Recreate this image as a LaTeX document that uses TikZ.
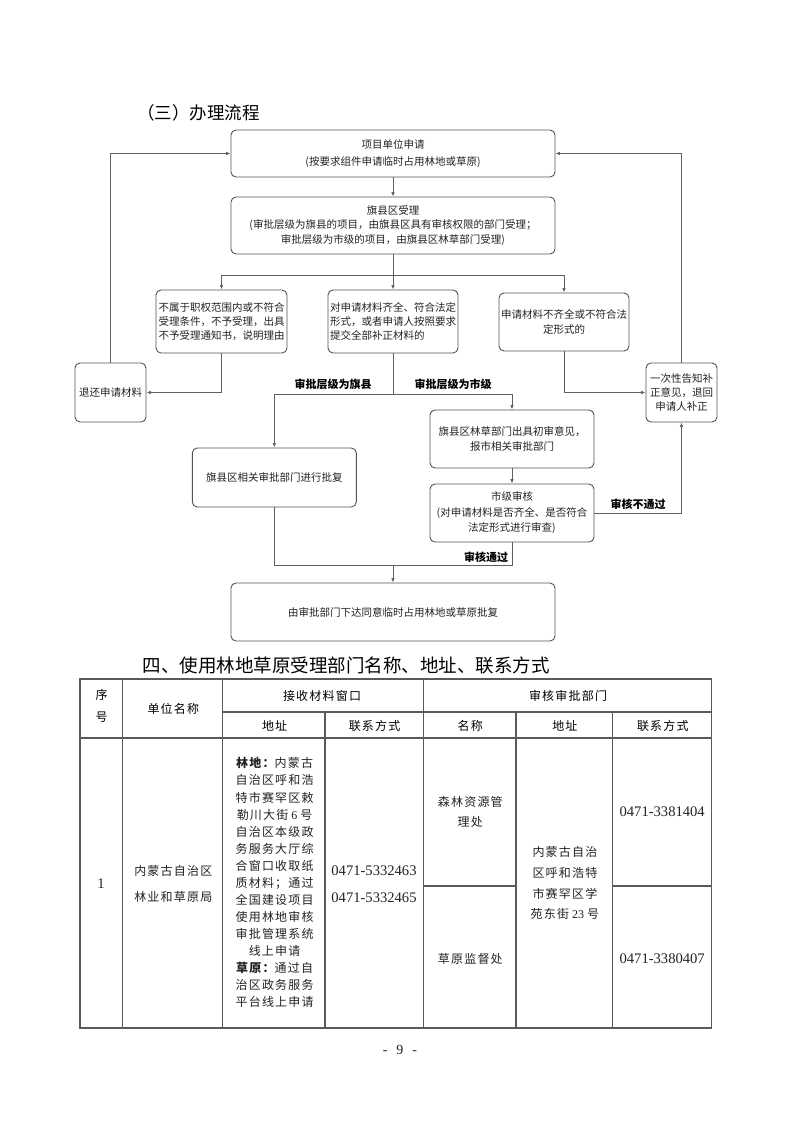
\documentclass[tikz,border=0pt]{standalone}
\usepackage{fontspec}
\setmainfont{Liberation Serif}
\newfontfamily\cjk{Noto Sans CJK SC}
\newfontfamily\cjkt{Noto Sans CJK SC}[LetterSpace=10]
\usetikzlibrary{arrows.meta}
\definecolor{boxc}{RGB}{80,80,104}
\definecolor{linec}{RGB}{96,96,96}
\definecolor{txt}{RGB}{35,35,35}
\definecolor{tabl}{RGB}{90,90,90}
\tikzset{
 fbox/.style={draw=boxc, line width=0.9pt, rounded corners=5pt, fill=white, align=center, inner sep=0pt, text=txt, font=\cjk\fontsize{10.5}{14.2}\selectfont},
 conn/.style={draw=linec, line width=0.9pt},
 arr/.style={conn, -{Latex[length=4.5pt,width=3.6pt]}},
 lbl/.style={font=\cjk\bfseries\fontsize{11}{13}\selectfont, text=black, inner sep=0pt},
 th/.style={font=\cjkt\fontsize{12}{22}\selectfont, text=black, align=center, inner sep=0pt},
 td/.style={font=\cjkt\fontsize{12}{17.03}\selectfont, text=txt, align=center, inner sep=0pt},
 tnum/.style={font=\fontsize{14.6}{26.7}\selectfont, text=txt, align=center, inner sep=0pt},
 tl/.style={draw=tabl, line width=1.1pt},
}
\begin{document}
\begin{tikzpicture}[x=1pt,y=-1pt]
\useasboundingbox[fill=white] (0,0) rectangle (793,1122);

% headings
\node[font=\cjk\fontsize{17.5}{20}\selectfont, anchor=west, inner sep=0pt] (h1) at (137,113) {（三）办理流程};

% flowchart boxes
\node[fbox, minimum width=324, minimum height=47, font=\cjk\fontsize{10.5}{16.5}\selectfont] (b1) at (393,153.5) {项目单位申请\\(按要求组件申请临时占用林地或草原)};
\node[fbox, minimum width=324, minimum height=57] (b2) at (393,225.5) {旗县区受理\\(审批层级为旗县的项目，由旗县区具有审核权限的部门受理；\\审批层级为市级的项目，由旗县区林草部门受理)};
\node[fbox, minimum width=131, minimum height=63, align=left, font=\cjk\fontsize{10.5}{13.8}\selectfont] (b3) at (221.5,321.5) {不属于职权范围内或不符合\\受理条件，不予受理，出具\\不予受理通知书，说明理由};
\node[fbox, minimum width=130, minimum height=63, align=left, font=\cjk\fontsize{10.5}{13.8}\selectfont] (b4) at (393,321.5) {对申请材料齐全、符合法定\\形式，或者申请人按照要求\\提交全部补正材料的};
\node[fbox, minimum width=130, minimum height=58, font=\cjk\fontsize{10.5}{15}\selectfont] (b5) at (564,322) {申请材料不齐全或不符合法\\定形式的};
\node[fbox, minimum width=71, minimum height=59] (b6) at (110.5,392.5) {退还申请材料};
\node[fbox, minimum width=71, minimum height=59] (b7) at (681.5,392.5) {一次性告知补\\正意见，退回\\申请人补正};
\node[fbox, minimum width=164, minimum height=59] (b8) at (274.3,477.5) {旗县区相关审批部门进行批复};
\node[fbox, minimum width=164, minimum height=58] (b9) at (512,439) {旗县区林草部门出具初审意见，\\报市相关审批部门};
\node[fbox, minimum width=164, minimum height=58, font=\cjk\fontsize{10.5}{15.5}\selectfont] (b10) at (512,513) {市级审核\\(对申请材料是否齐全、是否符合\\法定形式进行审查)};
\node[fbox, minimum width=324, minimum height=58] (b11) at (393,612) {由审批部门下达同意临时占用林地或草原批复};

% junctions
\coordinate (j1) at (393,275);
\coordinate (j2) at (393,394);
\coordinate (j3) at (393,565);

% connectors
\draw[arr] (b1) -- (b2);
\draw[conn] (b2.south) -- (j1);
\draw[arr] (j1) -| (b3.north);
\draw[arr] (j1) -- (b4.north);
\draw[arr] (j1) -| (b5.north);
\draw[arr] (b3.south) |- (b6.east);
\draw[arr] (b5.south) |- (b7.west);
\draw[arr] (b6.north) |- (b1.west);
\draw[arr] (b7.north) |- (b1.east);
\draw[conn] (b4.south) -- (j2);
\draw[arr] (j2) -| (b8.north);
\draw[arr] (j2) -| (b9.north);
\draw[arr] (b9) -- (b10);
\draw[arr] (b10.east) -| (b7.south);
\draw[conn] (b8.south) |- (j3);
\draw[conn] (b10.south) |- (j3);
\draw[arr] (j3) -- (b11.north);

% connector labels
\node[lbl] (l1) at (333,384) {审批层级为旗县};
\node[lbl] (l2) at (453,384) {审批层级为市级};
\node[lbl] (l3) at (638,504) {审核不通过};
\node[lbl] (l4) at (486,557) {审核通过};

% section heading
\node[font=\cjk\fontsize{18.5}{20}\selectfont, inner sep=0pt] (h2) at (346,665) {四、使用林地草原受理部门名称、地址、联系方式};

% table lines
\draw[tl, line width=1.5pt] (80,679) rectangle (711.7,1028);
\draw[tl] (122.7,679) -- (122.7,1028);
\draw[tl] (222.7,679) -- (222.7,1028);
\draw[tl] (423.3,679) -- (423.3,1028);
\draw[tl] (325,712) -- (325,1028);
\draw[tl] (516,712) -- (516,1028);
\draw[tl] (612.7,712) -- (612.7,1028);
\draw[tl] (222.7,712) -- (711.7,712);
\draw[tl] (80,738) -- (711.7,738);
\draw[tl] (423.3,886) -- (516,886);
\draw[tl] (612.7,886) -- (711.7,886);

% table header
\node[th] (t1) at (101.5,706) {序\\号};
\node[th] (t2) at (173.3,709) {单位名称};
\node[th] (t3) at (322,695.5) {接收材料窗口};
\node[th] (t4) at (274.6,726) {地址};
\node[th] (t5) at (374.6,726) {联系方式};
\node[th] (t6) at (568,696) {审核审批部门};
\node[th] (t7) at (470.3,726) {名称};
\node[th] (t8) at (564.9,726) {地址};
\node[th] (t9) at (662.8,726) {联系方式};

% table body
\node[tnum] (c1) at (101,884) {1};
\node[td, font=\cjkt\fontsize{12}{26.7}\selectfont] (c2) at (173.3,884) {内蒙古自治区\\林业和草原局};
\node[td] (c3) at (274.6,882.5) {{\bfseries 林地：}内蒙古\\自治区呼和浩\\特市赛罕区敕\\勒川大街{\rmfamily\ 6\ }号\\自治区本级政\\务服务大厅综\\合窗口收取纸\\质材料；通过\\全国建设项目\\使用林地审核\\审批管理系统\\线上申请\\{\bfseries 草原：}通过自\\治区政务服务\\平台线上申请};
\node[tnum] (c4) at (374,884) {0471-5332463\\0471-5332465};
\node[td, font=\cjkt\fontsize{12}{20.6}\selectfont] (c5) at (470.3,812) {森林资源管\\理处};
\node[tnum] (c6) at (662.2,812) {0471-3381404};
\node[td, font=\cjkt\fontsize{12}{20.7}\selectfont] (c7) at (564.9,883.3) {内蒙古自治\\区呼和浩特\\市赛罕区学\\苑东街{\rmfamily\ 23\ }号};
\node[td] (c8) at (470.3,959) {草原监督处};
\node[tnum] (c9) at (662.2,959) {0471-3380407};

% page number
\node[font=\fontsize{14}{16}\selectfont, text=txt, inner sep=0pt] (pg) at (400,1050) {-\hspace{9pt}9\hspace{9pt}-};
\end{tikzpicture}
\end{document}
